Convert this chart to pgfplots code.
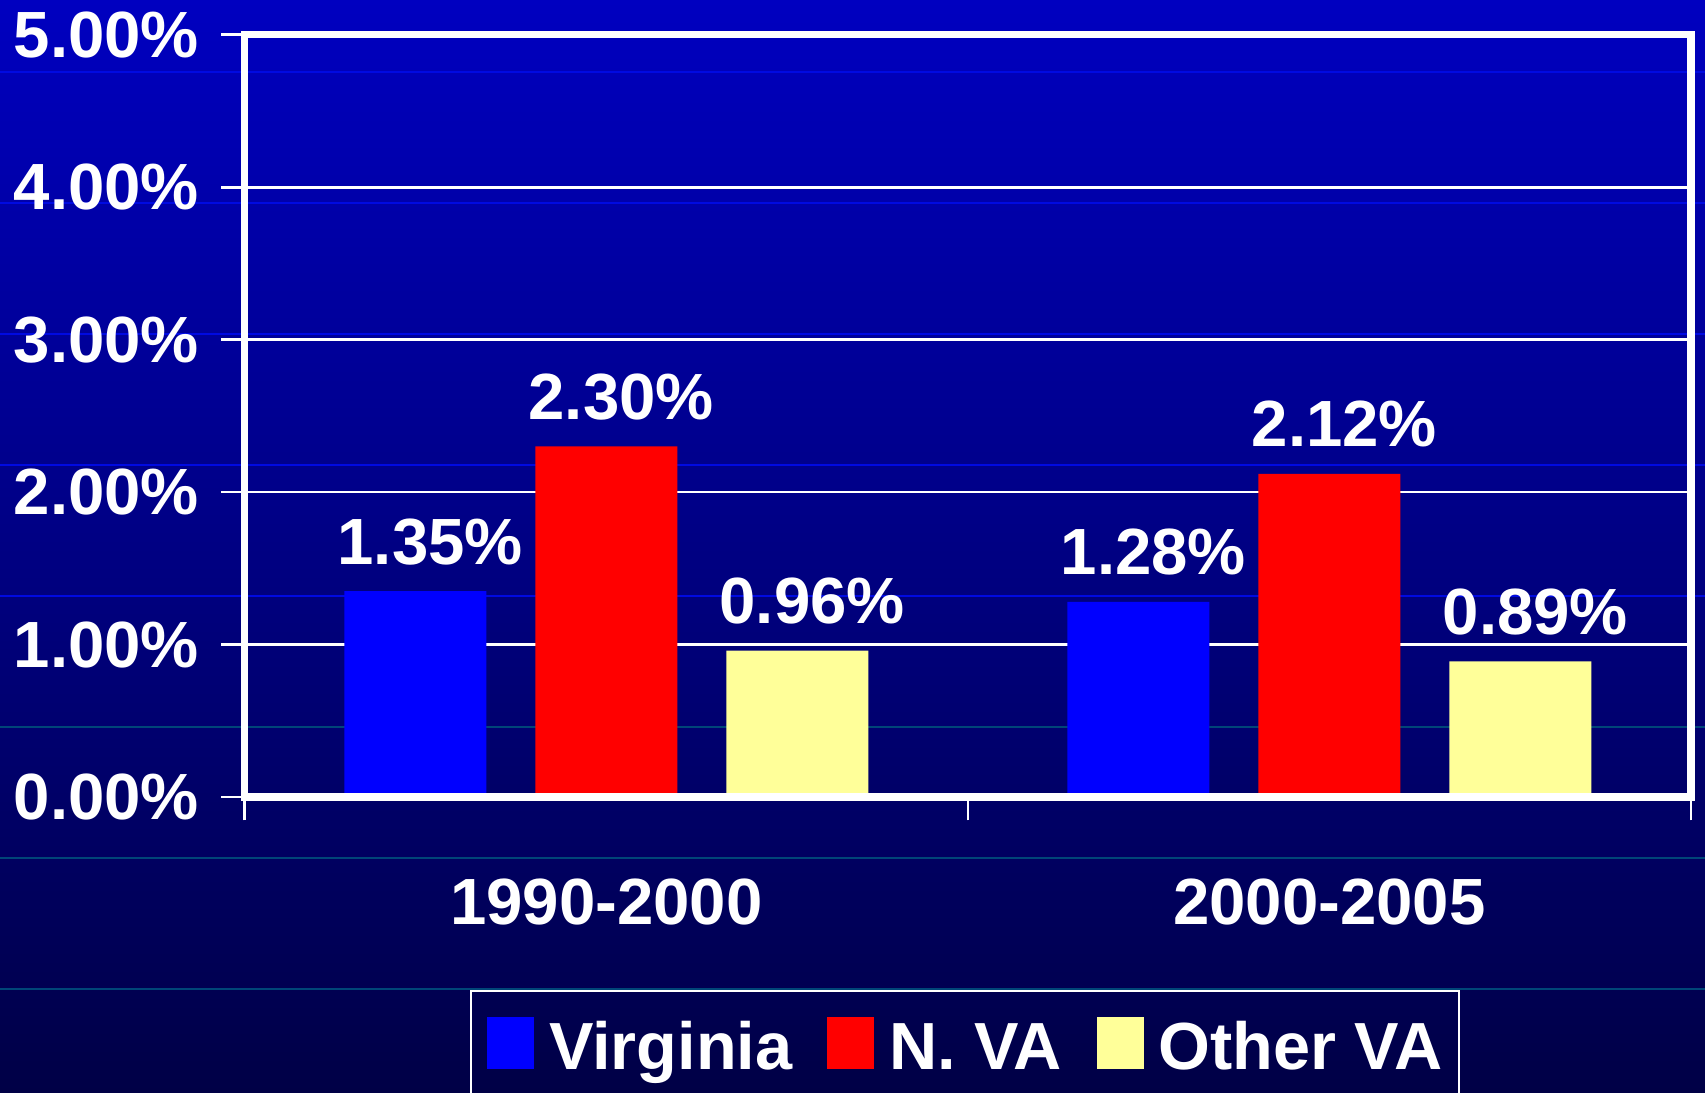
\documentclass[border=0pt]{standalone}
\usepackage{pgfplots}
\pgfplotsset{compat=1.18}
\usepackage{fontspec}
\setmainfont{Liberation Sans}
\definecolor{bgtop}{RGB}{0,0,192}
\definecolor{bgbot}{RGB}{0,0,70}
\definecolor{vablue}{RGB}{0,0,255}
\definecolor{vared}{RGB}{255,0,0}
\definecolor{vayel}{RGB}{255,255,153}
\definecolor{lineblue}{RGB}{0,10,225}
\definecolor{lineteal}{RGB}{0,70,120}
\begin{document}
\begin{tikzpicture}
\path[use as bounding box] (-73.41pt,-88.5pt) rectangle (438.09pt,239.1pt);
\clip (-73.41pt,-88.5pt) rectangle (438.09pt,239.1pt);
\shade[top color=bgtop, bottom color=bgbot] (-73.41pt,-88.5pt) rectangle (438.09pt,239.1pt);
\foreach \y in {217.5,178.2,138.9,99.6,60.3}
  \draw[lineblue, line width=0.6pt] (-73.41pt,\y pt) -- (438.09pt,\y pt);
\foreach \y in {21,-18.3,-57.6}
  \draw[lineteal, line width=0.7pt] (-73.41pt,\y pt) -- (438.09pt,\y pt);
\begin{axis}[
  width=433.9pt, height=228.66pt, scale only axis,
  xmin=-0.5, xmax=1.5, ymin=0, ymax=5,
  ybar=14.7pt, bar width=42.6pt,
  axis line style={white, line width=2.2pt},
  ytick={0,1,2,3,4,5},
  yticklabels={0.00\%,1.00\%,2.00\%,3.00\%,4.00\%,5.00\%},
  ymajorgrids, grid style={white, line width=0.8pt},
  xtick={-0.5,0.5,1.5}, xticklabels={},
  extra x ticks={0,1}, extra x tick labels={1990-2000,2000-2005},
  extra x tick style={major tick length=0pt},
  xtick pos=bottom, ytick pos=left,
  tick align=outside, major tick length=7pt,
  tick style={white, line width=0.8pt},
  yticklabel style={font=\fontsize{19.6pt}{23pt}\selectfont\bfseries, text=white, anchor=east, inner sep=0pt, xshift=-6.5pt},
  xticklabel style={font=\fontsize{19.6pt}{23pt}\selectfont\bfseries, text=white, anchor=base, yshift=-38.2pt},
  nodes near coords={\pgfmathprintnumber[fixed,fixed zerofill,precision=2,assume math mode=true]{\pgfplotspointmeta}\%},
  nodes near coords style={font=\fontsize{19.6pt}{23pt}\selectfont\bfseries, text=white, anchor=base, yshift=8.1pt, xshift=4.5pt},
  legend columns=3,
  legend image code/.code={\fill[#1] (0pt,0pt) rectangle (14pt,15.6pt);},
  legend style={at={(0.1556,-0.2527)}, anchor=north west, draw=white, line width=0.6pt, fill=none, text=white,
    font=\fontsize{20pt}{24pt}\selectfont\bfseries, inner xsep=5pt, inner ysep=8pt, nodes={inner sep=0pt},
    cells={anchor=base west},
    /tikz/every odd column/.append style={column sep=4.5pt},
    /tikz/every even column/.append style={column sep=10.5pt}},
  clip=false,
]
\addplot[fill=vablue, draw=none] coordinates {(0,1.35) (1,1.28)};
\addplot[fill=vared, draw=none] coordinates {(0,2.30) (1,2.12)};
\addplot[fill=vayel, draw=none] coordinates {(0,0.96) (1,0.89)};
\legend{Virginia, N. VA, Other VA}
\draw[white, line width=2.2pt] (rel axis cs:0,0) -- (rel axis cs:1,0);
\end{axis}
\end{tikzpicture}
\end{document}
